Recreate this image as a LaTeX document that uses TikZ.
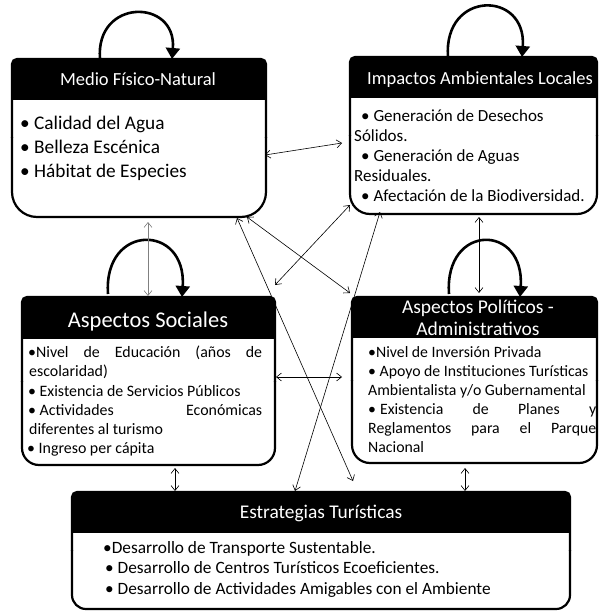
\documentclass[tikz,border=0pt]{standalone}
\usepackage{fontspec}
\setmainfont{Carlito}
\usetikzlibrary{arrows.meta,calc}
\tikzset{
  boxline/.style={line width=2.2pt, draw=black},
  conn/.style={line width=0.6pt, {Straight Barb[length=5pt,width=8pt]}-{Straight Barb[length=5pt,width=8pt]}},
  selfloop/.style={line width=2.6pt, -{Triangle[length=11pt,width=14pt]}},
  head/.style={text=white, anchor=base, inner sep=0pt},
  body/.style={text=black, anchor=base west, inner sep=0pt},
}
\newcommand\mybox[7]{%
  \node[inner sep=0pt, outer sep=0pt, minimum width={(#4-#2)*1pt}, minimum height={(#5-#3)*1pt}, anchor=north west] (#1) at (#2,#3) {};
  \begin{scope}
    \clip ({#2-6},{#3-6}) rectangle ({#4+6},#6);
    \fill[black, rounded corners=5pt] (#2,#3) rectangle (#4,#5);
  \end{scope}
  \begin{scope}
    \clip ({#2-6},{#3-6}) rectangle ({#4+6},{(#3+#5)/2});
    \draw[boxline, rounded corners=5pt] (#2,#3) rectangle (#4,#5);
  \end{scope}
  \begin{scope}
    \clip ({#2-6},{(#3+#5)/2}) rectangle ({#4+6},{#5+6});
    \draw[boxline, rounded corners=#7pt] (#2,#3) rectangle (#4,#5);
  \end{scope}
}
\begin{document}
\begin{tikzpicture}[x=1pt,y=-1pt]
\fill[white] (0,0) rectangle (598,612);
\useasboundingbox (0,0) rectangle (598,612);

% boxes
\mybox{b1}{12}{59}{266}{217}{100}{25}
\mybox{b2}{350}{57}{597}{214}{98}{20}
\mybox{b3}{22}{297}{275}{465}{338}{17}
\mybox{b4}{352}{297}{597}{463}{337}{18}
\mybox{b5}{72}{492}{570}{609}{532}{14}

% headers
\node[head, font=\fontsize{18.5}{22}\selectfont] (h1) at (138,86) {Medio Físico-Natural};
\node[head, font=\fontsize{18.5}{22}\selectfont] (h2) at (480,85) {Impactos Ambientales Locales};
\node[head, font=\fontsize{22.5}{26}\selectfont] (h3) at (148,327) {Aspectos Sociales};
\node[head, font=\fontsize{19.5}{23}\selectfont] (h4a) at (478,313) {Aspectos Políticos -};
\node[head, font=\fontsize{19.5}{23}\selectfont] (h4b) at (478,335) {Administrativos};
\node[head, font=\fontsize{19.4}{23}\selectfont] (h5) at (321,518) {Estrategias Turísticas};

% body box 1
\node[body, font=\fontsize{19.3}{23}\selectfont] (t11) at (20,130) {• Calidad del Agua};
\node[body, font=\fontsize{19.3}{23}\selectfont] (t12) at (20,154) {• Belleza Escénica};
\node[body, font=\fontsize{19.3}{23}\selectfont] (t13) at (20,178) {• Hábitat de Especies};

% body box 2
\node[body, font=\fontsize{17}{20}\selectfont] (t21) at (361,122) {• Generación de Desechos};
\node[body, font=\fontsize{17}{20}\selectfont] (t22) at (354,142) {Sólidos.};
\node[body, font=\fontsize{17}{20}\selectfont] (t23) at (361,162) {• Generación de Aguas};
\node[body, font=\fontsize{17}{20}\selectfont] (t24) at (354,182) {Residuales.};
\node[body, font=\fontsize{17}{20}\selectfont] (t25) at (361,202) {• Afectación de la Biodiversidad.};

% body box 3
\node[body, font=\fontsize{15.9}{19}\selectfont] (t31) at (28,357) {\makebox[234pt][s]{•Nivel de Educación (años de}};
\node[body, font=\fontsize{15.9}{19}\selectfont] (t32) at (29,376.5) {escolaridad)};
\node[body, font=\fontsize{15.9}{19}\selectfont] (t33) at (28,396) {• Existencia de Servicios Públicos};
\node[body, font=\fontsize{15.9}{19}\selectfont] (t34) at (28,415) {\makebox[234pt][s]{• Actividades\hfill Económicas}};
\node[body, font=\fontsize{15.9}{19}\selectfont] (t35) at (29,434) {diferentes al turismo};
\node[body, font=\fontsize{15.9}{19}\selectfont] (t36) at (27,453) {• Ingreso per cápita};

% body box 4
\node[body, font=\fontsize{15.8}{19}\selectfont] (t41) at (368,357) {•Nivel de Inversión Privada};
\node[body, font=\fontsize{15.8}{19}\selectfont] (t42) at (368,376) {• Apoyo de Instituciones Turísticas};
\node[body, font=\fontsize{15.8}{19}\selectfont] (t43) at (368,395) {Ambientalista y/o Gubernamental};
\node[body, font=\fontsize{15.8}{19}\selectfont] (t44) at (368,414) {\makebox[228pt][s]{•\kern4pt Existencia de Planes y}};
\node[body, font=\fontsize{15.8}{19}\selectfont] (t45) at (368,433) {\makebox[228pt][s]{Reglamentos para el Parque}};
\node[body, font=\fontsize{15.8}{19}\selectfont] (t46) at (368,452) {Nacional};

% body box 5
\node[body, font=\fontsize{17.3}{20}\selectfont] (t51) at (103,553) {•Desarrollo de Transporte Sustentable.};
\node[body, font=\fontsize{17.3}{20}\selectfont] (t52) at (105,573) {• Desarrollo de Centros Turísticos Ecoeficientes.};
\node[body, font=\fontsize{17.3}{20}\selectfont] (t53) at (105,594) {• Desarrollo de Actividades Amigables con el Ambiente};

% self loops
\draw[selfloop] ($(b1.north west)+(88,0)$) .. controls +(-5,-61) and +(5,-61) .. ($(b1.north west)+(160,0)$);
\draw[selfloop] ($(b2.north west)+(98,0)$) .. controls +(-5,-67) and +(5,-67) .. ($(b2.north west)+(172,0)$);
\draw[selfloop] ($(b3.north west)+(86,-3)$) .. controls +(-5,-71) and +(5,-74) .. ($(b3.north west)+(160,0)$);
\draw[selfloop] ($(b4.north west)+(97,-3)$) .. controls +(-5,-71) and +(5,-74) .. ($(b4.north west)+(168,0)$);

% connectors
\draw[conn] ($(b1.north west)+(253,96)$) -- ($(b2.north west)+(-8,86)$);
\draw[conn, draw=gray, color=gray] ($(b1.north west)+(136,163)$) -- ($(b3.north west)+(126,-1)$);
\draw[conn] ($(b2.north west)+(129,160)$) -- ($(b4.north west)+(127,-4)$);
\draw[conn] ($(b3.north west)+(254,80)$) -- ($(b4.north west)+(-10,80)$);
\draw[conn] ($(b3.north west)+(153,171)$) -- ($(b5.north west)+(103,-1)$);
\draw[conn] ($(b4.north west)+(113,171)$) -- ($(b5.north west)+(393,-1)$);
\draw[conn] ($(b1.north west)+(225,159)$) -- ($(b5.north west)+(281,-11)$);
\draw[conn] ($(b1.north west)+(235,158)$) -- ($(b4.north west)+(-2,-4)$);
\draw[conn] ($(b2.north west)+(0,148)$) -- ($(b3.north west)+(253,-12)$);
\draw[conn] ($(b2.north west)+(30,155)$) -- ($(b5.north west)+(223,-1)$);
\end{tikzpicture}
\end{document}
